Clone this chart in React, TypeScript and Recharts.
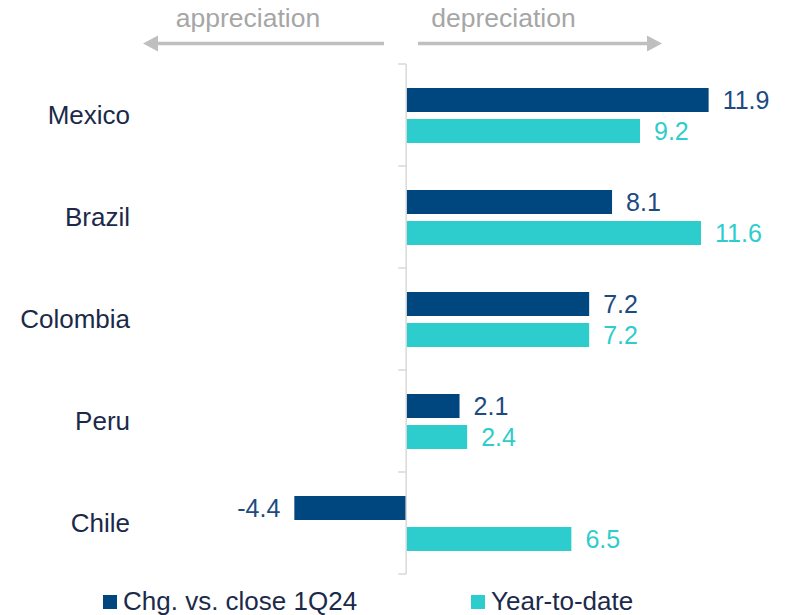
import { Bar, BarChart, LabelList, ReferenceLine, XAxis, YAxis } from "recharts";

const countries = ["Mexico", "Brazil", "Colombia", "Peru", "Chile"];
const chgVsClose1Q24 = [11.9, 8.1, 7.2, 2.1, -4.4];
const yearToDate = [9.2, 11.6, 7.2, 2.4, 6.5];

const NAVY = "#00467f";
const NAVY_TEXT = "#1d4a80";
const TEAL = "#2ecdcd";
const INK = "#1b2a4a";
const GREY_TEXT = "#a6a6a6";
const GREY_ARROW = "#bfbfbf";
const FONT = "'Liberation Sans', Arial, sans-serif";

const data = countries.map((country, i) => ({
  country,
  chg: chgVsClose1Q24[i],
  ytd: yearToDate[i],
}));

// zero line with small tick marks at the category boundaries
function ZeroAxis(props: any) {
  const { x1, y1, x2, y2 } = props;
  const top = Math.min(y1, y2);
  const bottom = Math.max(y1, y2);
  const step = (bottom - top) / countries.length;
  return (
    <g>
      <line x1={x1} y1={top} x2={x2} y2={bottom} stroke="#d9d9d9" strokeWidth={1.5} />
      {Array.from({ length: countries.length + 1 }, (_, i) => (
        <line
          key={i}
          x1={x1 - 8}
          x2={x1}
          y1={top + i * step}
          y2={top + i * step}
          stroke="#d9d9d9"
          strokeWidth={1.5}
        />
      ))}
    </g>
  );
}

export default function App() {
  return (
    <div style={{ position: "absolute", left: 0, top: 0, width: 788, height: 615, background: "#fff" }}>
      <BarChart
        width={788}
        height={615}
        data={data}
        layout="vertical"
        margin={{ top: 64, right: 26, bottom: 41, left: 0 }}
        barSize={24}
        barGap={7}
      >
        <XAxis type="number" domain={[-10, 14]} hide />
        <YAxis
          type="category"
          dataKey="country"
          width={152}
          axisLine={false}
          tickLine={false}
          tickSize={0}
          tickMargin={22}
          tick={{ fill: INK, fontSize: 26, fontFamily: FONT }}
        />
        <Bar dataKey="chg" fill={NAVY} isAnimationActive={false}>
          <LabelList
            dataKey="chg"
            position="right"
            offset={14}
            fill={NAVY_TEXT}
            style={{ fontSize: 25, fontFamily: FONT }}
          />
        </Bar>
        <Bar dataKey="ytd" fill={TEAL} isAnimationActive={false}>
          <LabelList
            dataKey="ytd"
            position="right"
            offset={14}
            fill={TEAL}
            style={{ fontSize: 25, fontFamily: FONT }}
          />
        </Bar>
        <ReferenceLine x={0} shape={<ZeroAxis />} />
      </BarChart>

      <svg
        width={788}
        height={615}
        style={{ position: "absolute", left: 0, top: 0, pointerEvents: "none" }}
        fontFamily={FONT}
      >
        <text x={248} y={27} textAnchor="middle" fontSize={26.5} fill={GREY_TEXT}>
          appreciation
        </text>
        <text x={503.5} y={27} textAnchor="middle" fontSize={26.5} fill={GREY_TEXT}>
          depreciation
        </text>
        <line x1={157} y1={43.5} x2={384} y2={43.5} stroke={GREY_ARROW} strokeWidth={3.5} />
        <polygon points="143,43.5 158,35.5 158,51.5" fill={GREY_ARROW} />
        <line x1={418} y1={43.5} x2={648} y2={43.5} stroke={GREY_ARROW} strokeWidth={3.5} />
        <polygon points="662,43.5 647,35.5 647,51.5" fill={GREY_ARROW} />

        <rect x={103} y={595} width={14} height={14} fill={NAVY} />
        <text x={123} y={610} fontSize={26} fill={INK}>
          Chg. vs. close 1Q24
        </text>
        <rect x={471} y={595} width={14} height={14} fill={TEAL} />
        <text x={491} y={610} fontSize={26} fill={INK}>
          Year-to-date
        </text>
      </svg>
    </div>
  );
}
